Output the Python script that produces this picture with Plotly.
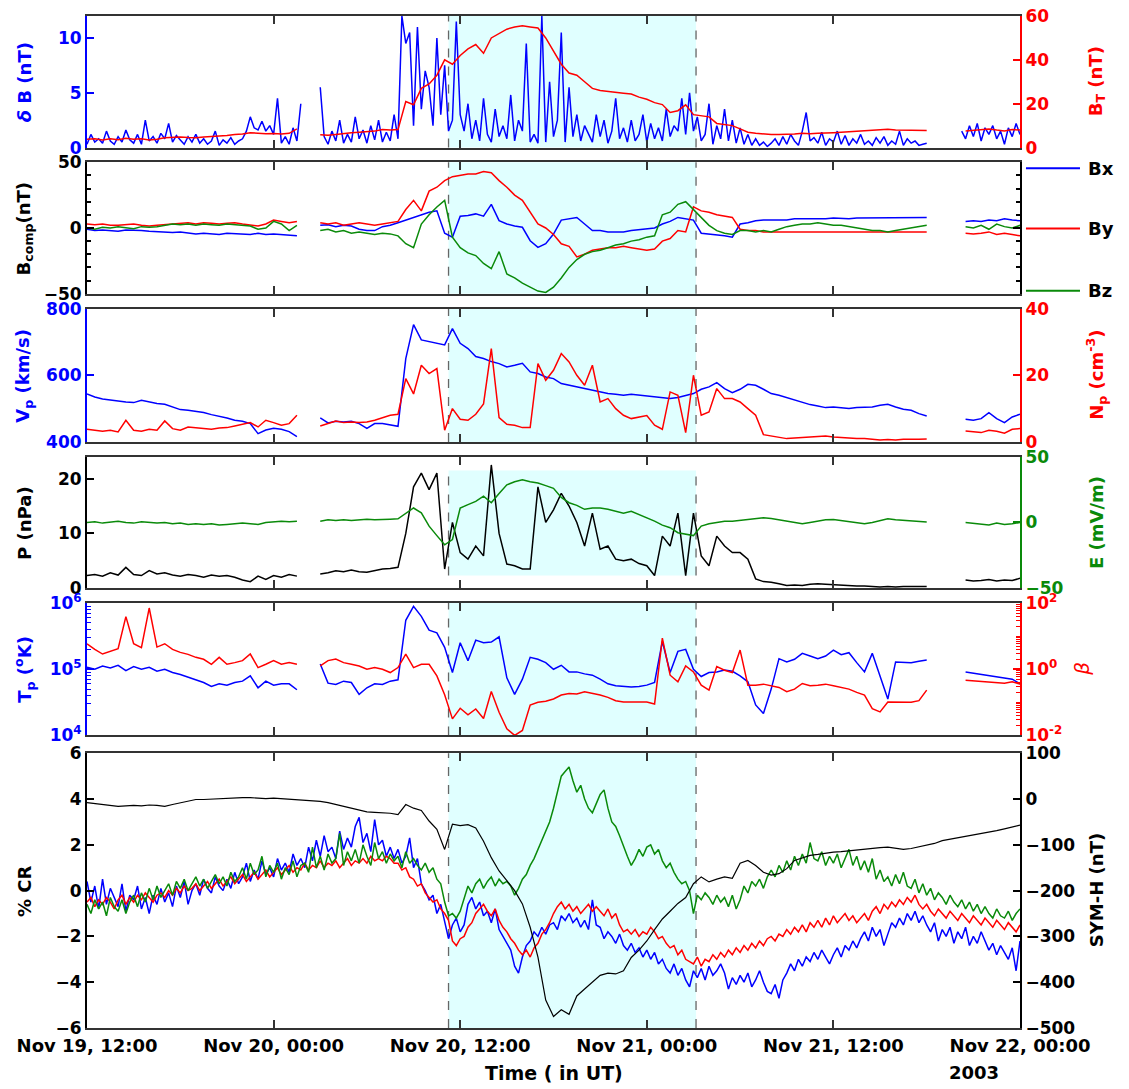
import pandas as pd
import plotly.graph_objects as go

N = None
T0 = "2003-11-19 12:00"
T1 = "2003-11-22 00:00"
time_30min = pd.date_range(T0, periods=121, freq="30min")
time_15min = pd.date_range(T0, periods=241, freq="15min")
x_tick_vals = pd.date_range(T0, periods=6, freq="12h")
x_tick_text = ["Nov 19, 12:00", "Nov 20, 00:00", "Nov 20, 12:00",
               "Nov 21, 00:00", "Nov 21, 12:00", "Nov 22, 00:00"]
shade_start = "2003-11-20 11:15"
shade_end = "2003-11-21 03:10"

# ---------------- Panel 1 ----------------
delta_b = [
    0.3, 1.2, 0.5, 0.8, 0.4, 1.5, 0.6, 0.3, 1.0, 0.5, 1.6, 0.7, 0.4, 1.2, 0.3, 2.5,
    0.6, 1.0, 0.4, 1.3, 0.8, 2.2, 0.5, 1.1, 0.7, 0.3, 1.0, 0.5, 1.2, 0.4, 0.8, 0.3,
    0.6, 1.5, 0.2, 0.7, 0.4, 0.9, 0.3, 0.6, 0.8, 1.5, 2.8, 1.8, 1.6, 2.4, 1.5, 2.0,
    1.2, 4.5, 0.4, 1.0, 0.3, 1.8, 0.6, 4.0, N, N, N, N, 5.5, 1.0, 0.3, 1.5,
    0.6, 2.5, 0.4, 1.2, 0.5, 2.8, 0.8, 1.6, 0.4, 2.0, 0.7, 2.5, 0.5, 1.4, 0.6, 3.0,
    0.8, 12.0, 9.5, 10.5, 2.0, 11.0, 3.5, 7.0, 5.5, 2.0, 10.0, 3.0, 7.5, 1.5, 2.5, 11.5,
    3.0, 1.5, 4.0, 0.8, 2.5, 0.6, 4.5, 1.2, 0.5, 3.5, 1.0, 2.0, 0.8, 4.8, 0.6, 2.5,
    1.5, 9.5, 0.5, 1.2, 0.4, 12.0, 0.5, 6.0, 1.0, 2.5, 10.5, 0.5, 5.5, 1.0, 3.0, 0.6,
    2.0, 1.2, 0.5, 3.0, 1.0, 2.5, 0.4, 1.5, 4.5, 0.8, 1.8, 0.5, 2.5, 0.6, 1.2, 3.0,
    0.5, 2.2, 0.8, 1.8, 0.6, 3.5, 1.0, 2.0, 1.5, 4.5, 1.2, 5.0, 1.5, 2.8, 0.6, 1.2,
    4.0, 0.3, 2.0, 0.8, 3.5, 0.6, 2.5, 0.4, 1.8, 0.3, 1.2, 0.2, 0.8, 0.2, 0.5, 0.1,
    0.4, 0.8, 0.2, 1.0, 0.3, 1.2, 0.6, 0.2, 1.5, 3.2, 0.6, 0.9, 0.4, 1.4, 0.2, 0.8,
    0.5, 1.5, 0.3, 1.1, 0.2, 0.8, 0.4, 1.2, 0.3, 0.6, 0.2, 0.9, 0.4, 1.0, 0.2, 0.6,
    0.3, 1.5, 0.2, 0.8, 0.4, 0.6, 0.2, 0.3, 0.4, N, N, N, N, N, N, N,
    N, 1.5, 0.8, 2.0, 1.0, 2.2, 0.6, 1.8, 1.2, 2.0, 0.8, 1.5, 0.3, 1.8, 1.0, 2.2,
    1.2]
b_total = [
    3.8, 4.0, 3.5, 4.0, 3.6, 4.2, 3.8, 4.0, 3.5, 3.8,
    4.5, 4.8, 4.8, 4.6, 4.5, 4.8, 5.0, 5.2, 5.5, 6.0,
    6.2, 6.8, 6.5, 6.3, 6.4, 6.2, 6.5, 8.5, N, N,
    5.8, 5.6, 6.0, 6.5, 6.8, 7.0, 7.2, 7.5, 8.2, 8.0,
    8.2, 21.0, 19.5, 27.0, 29.0, 33.0, 40.0, 38.0, 42.0, 45.0,
    47.0, 43.0, 50.0, 52.0, 54.0, 55.0, 55.5, 55.0, 54.5, 50.0,
    44.0, 38.0, 34.0, 33.0, 30.0, 27.0, 26.0, 25.5, 25.0, 24.8,
    24.4, 23.0, 22.0, 20.5, 19.6, 16.0, 16.8, 19.5, 15.0, 14.5,
    14.0, 11.0, 10.5, 10.0, 8.5, 7.0, 6.5, 6.2, 6.0, 6.0,
    6.0, 6.2, 6.5, 6.3, 6.5, 6.8, 6.8, 7.0, 7.2, 7.4,
    7.5, 7.8, 8.2, 8.3, 8.0, 8.0, 8.1, 8.0, 7.8, N,
    N, N, N, 7.5, 7.8, 8.2, 8.5, 8.0, 7.6, 8.2,
    8.0]

# ---------------- Panel 2 ----------------
b_x = [
    -1.0, -2.0, -1.5, -2.0, -2.5, -1.5, -1.5, -2.0, -2.5, -3.0,
    -3.0, -3.5, -3.0, -4.0, -4.5, -4.0, -4.5, -5.0, -4.0, -4.5,
    -4.5, -5.0, -4.0, -5.0, -4.5, -5.0, -5.5, -6.0, N, N,
    2.0, 2.5, 1.0, 2.0, 1.5, -1.0, -2.0, -2.0, 1.0, 2.0,
    4.0, 6.0, 8.0, 10.0, 12.0, 13.0, -4.0, -7.0, 9.0, 9.5,
    10.7, 9.0, 18.0, 5.6, 3.0, 1.5, 0.5, -9.7, -14.8, -12.0,
    -4.6, 6.0, 7.0, 8.0, 3.0, -2.0, -2.0, -3.0, -3.0, -3.0,
    -2.0, -1.5, -1.0, 0.0, 3.0, 5.0, 8.0, 7.0, 6.0, -4.0,
    -4.5, -5.0, -6.0, -7.0, 3.0, 4.0, 5.5, 6.0, 6.0, 6.5,
    6.0, 7.0, 7.0, 6.5, 7.0, 7.0, 7.5, 7.0, 7.0, 7.5,
    7.5, 7.5, 8.0, 7.5, 8.0, 8.0, 8.0, 8.0, 8.0, N,
    N, N, N, 5.0, 5.5, 5.0, 6.0, 5.5, 7.0, 6.0,
    5.5]
b_y = [
    3.0, 2.5, 3.0, 2.0, 2.0, 2.5, 3.0, 2.0, 1.5, 2.0,
    2.5, 3.0, 3.5, 4.0, 3.0, 4.0, 3.5, 3.0, 3.5, 4.0,
    3.0, 2.5, 1.5, 3.0, 6.0, 5.0, 4.0, 5.0, N, N,
    4.0, 3.0, 4.0, 2.0, 3.0, 4.0, 3.0, 2.0, 3.0, 4.0,
    5.0, 14.0, 21.0, 13.0, 28.0, 31.0, 36.0, 39.0, 40.0, 41.0,
    41.0, 43.0, 42.0, 36.0, 31.0, 25.0, 21.0, 12.0, 3.0, 0.0,
    -5.0, -12.0, -14.0, -22.0, -20.0, -17.0, -16.0, -15.0, -15.0, -14.0,
    -15.0, -16.0, -17.0, -16.0, -10.0, -8.0, -2.0, -3.0, 16.0, 13.0,
    12.0, 10.0, 9.0, 8.0, -1.0, -2.0, -2.0, -3.0, -3.0, -3.0,
    -3.0, -3.5, -3.0, -3.0, -3.5, -3.0, -3.0, -3.5, -3.0, -3.0,
    -3.5, -3.0, -3.0, -3.5, -3.0, -3.0, -3.5, -3.0, -3.0, N,
    N, N, N, -4.0, -4.5, -4.0, -3.0, -5.0, -4.0, -5.0,
    -6.0]
b_z = [
    0.0, -1.0, 0.5, 0.0, 1.0, 0.0, -0.5, 1.0, 0.5, 1.0,
    2.0, 3.0, 2.5, 3.0, 2.0, 3.0, 2.5, 2.0, 3.0, 2.5,
    2.0, 1.5, -1.0, 0.0, 5.0, 3.0, -2.0, 2.0, N, N,
    -2.0, -1.0, -3.0, -2.0, -4.0, -3.0, -4.0, -5.0, -4.0, -4.5,
    -6.0, -12.0, -15.0, 3.0, 10.0, 16.0, 21.0, -7.0, -15.0, -19.0,
    -21.0, -27.0, -31.0, -18.0, -35.0, -38.0, -42.0, -45.0, -48.0, -49.0,
    -45.0, -38.0, -30.0, -24.0, -20.0, -18.0, -17.0, -15.0, -13.0, -12.0,
    -10.0, -9.0, -7.0, -6.0, 10.0, 12.0, 18.0, 20.0, 14.0, 8.0,
    2.0, -2.0, -4.0, -5.0, -2.0, -2.0, -3.0, -2.0, -3.0, -1.0,
    1.0, 2.0, 3.0, 3.0, 4.0, 3.0, 2.0, 2.0, 1.0, 0.0,
    -1.0, -2.0, -2.0, -3.0, -2.0, -1.0, 0.0, 1.0, 2.0, N,
    N, N, N, 1.0, 0.0, 2.0, -1.0, 3.0, 1.0, 0.0,
    2.0]

# ---------------- Panel 3 ----------------
v_p = [
    544, 535, 529, 525, 523, 520, 518, 525, 520, 515,
    513, 505, 497, 495, 492, 488, 482, 478, 472, 465,
    462, 455, 425, 436, 441, 438, 431, 416, N, N,
    472, 457, 462, 460, 462, 455, 441, 455, 455, 452,
    447, 650, 752, 706, 701, 696, 691, 740, 696, 680,
    656, 650, 641, 635, 625, 630, 636, 610, 605, 595,
    590, 575, 570, 563, 560, 553, 550, 545, 543, 540,
    543, 540, 538, 535, 533, 530, 533, 538, 545, 558,
    565, 578, 560, 548, 558, 573, 570, 558, 545, 540,
    533, 525, 518, 512, 508, 503, 505, 503, 500, 503,
    503, 505, 510, 513, 505, 498, 495, 485, 478, N,
    N, N, N, 468, 465, 470, 488, 470, 458, 475,
    483]
n_p = [
    3.8, 3.5, 3.2, 3.5, 3.0, 6.5, 3.5, 3.2, 3.8, 3.5,
    6.3, 4.0, 3.5, 4.5, 4.3, 4.0, 3.8, 4.2, 4.3, 4.8,
    5.3, 5.8, 4.5, 6.5, 5.8, 5.0, 5.5, 8.0, N, N,
    4.8, 5.5, 6.3, 5.8, 6.0, 5.8, 6.0, 6.5, 7.3, 8.0,
    8.3, 19.0, 14.4, 23.0, 20.5, 22.0, 3.5, 10.0, 6.8, 6.5,
    8.3, 11.4, 28.0, 7.3, 5.3, 5.0, 4.3, 4.3, 23.5, 18.5,
    21.5, 26.5, 24.0, 20.0, 17.0, 23.0, 12.0, 13.0, 10.0, 8.0,
    7.0, 7.5, 7.9, 5.0, 3.8, 15.0, 14.0, 2.8, 20.0, 8.0,
    9.0, 16.0, 13.0, 13.0, 12.0, 10.0, 8.0, 2.2, 1.8, 1.5,
    1.0, 1.2, 1.3, 1.5, 1.5, 1.8, 1.5, 1.3, 1.2, 1.0,
    1.0, 0.8, 0.6, 0.7, 0.6, 0.8, 0.7, 0.8, 0.9, N,
    N, N, N, 3.3, 3.0, 2.8, 3.5, 3.2, 2.6, 3.8,
    4.0]

# ---------------- Panel 4 ----------------
pressure = [
    2.3, 2.5, 2.2, 2.8, 2.4, 3.8, 2.5, 2.3, 3.2, 2.6,
    2.8, 2.4, 2.2, 2.5, 2.3, 2.0, 2.4, 2.2, 2.3, 2.0,
    1.5, 1.2, 2.2, 1.6, 2.3, 2.0, 2.5, 2.2, N, N,
    2.6, 2.8, 3.2, 3.0, 3.3, 3.0, 2.9, 3.2, 3.5, 3.6,
    3.8, 10.0, 18.5, 21.0, 18.0, 21.0, 3.5, 12.0, 6.5, 5.3,
    7.7, 5.9, 22.5, 10.0, 4.4, 4.1, 3.5, 3.5, 18.5, 12.0,
    14.3, 17.3, 15.0, 12.0, 7.7, 13.7, 7.1, 7.7, 5.3, 5.0,
    5.3, 4.5, 4.1, 2.3, 9.5, 7.7, 13.7, 2.3, 13.7, 5.9,
    4.1, 9.5, 7.7, 6.5, 6.5, 5.3, 1.7, 1.2, 1.1, 0.8,
    0.5, 0.6, 0.5, 0.7, 0.8, 0.7, 0.6, 0.5, 0.5, 0.4,
    0.4, 0.3, 0.2, 0.3, 0.2, 0.3, 0.3, 0.2, 0.3, N,
    N, N, N, 1.5, 1.3, 1.4, 1.6, 1.3, 1.5, 1.4,
    1.8]
e_field = [
    0.0, 0.5, -0.5, 0.5, 1.0, 0.0, -0.5, 0.5, 0.0, -0.5,
    0.0, -1.0, -0.5, -1.5, -1.0, -1.5, -1.0, -2.0, -1.5, -1.0,
    -0.5, -1.0, -1.5, 0.0, 0.5, 1.0, 0.5, 1.0, N, N,
    1.0, 2.0, 1.5, 2.0, 1.5, 2.0, 2.5, 2.0, 2.0, 2.5,
    2.8, 7.0, 11.0, 7.3, -2.8, -10.0, -17.0, -13.0, 11.0, 13.6,
    16.0, 20.0, 15.0, 22.0, 28.6, 31.0, 32.4, 31.0, 30.0, 28.0,
    26.0, 19.0, 15.0, 13.0, 10.0, 11.0, 11.0, 10.0, 8.5, 7.0,
    8.5, 6.0, 4.0, 1.0, -2.0, -4.0, -7.8, -9.0, -10.0, -2.8,
    -1.0, 0.0, 1.0, 1.0, 1.5, 2.0, 3.0, 3.5, 3.0, 2.0,
    0.5, -0.3, -1.0, 0.0, 1.0, 2.0, 2.3, 1.5, 0.5, -0.5,
    -1.0, 0.0, 1.5, 2.8, 2.0, 1.5, 1.0, 0.5, 0.3, N,
    N, N, N, 0.0, -0.5, -1.0, -2.0, -0.5, -1.5, -1.0,
    0.0]

# ---------------- Panel 5 (log10 values) ----------------
tp_log10 = [
    5.03, 5.0, 5.05, 5.02, 5.06, 4.98, 5.04, 5.0, 5.03, 4.97,
    5.0, 4.95, 4.92, 4.88, 4.85, 4.8, 4.74, 4.78, 4.76, 4.8,
    4.82, 4.9, 4.72, 4.82, 4.76, 4.78, 4.78, 4.69, N, N,
    5.08, 4.79, 4.77, 4.82, 4.8, 4.62, 4.72, 4.78, 4.77, 4.82,
    4.84, 5.74, 5.95, 5.8, 5.59, 5.55, 5.33, 4.95, 5.4, 5.13,
    5.44, 5.4, 5.41, 5.49, 4.87, 4.62, 4.85, 5.18, 5.15, 5.1,
    5.0, 5.06, 4.96, 4.96, 4.93, 4.91, 4.85, 4.78, 4.75, 4.74,
    4.73, 4.74, 4.76, 4.8, 5.42, 4.95, 5.27, 5.3, 5.0, 4.89,
    4.95, 4.96, 4.99, 4.97, 4.9, 4.81, 4.46, 4.33, 4.7, 5.16,
    5.11, 5.15, 5.24, 5.2, 5.16, 5.2, 5.29, 5.22, 5.25, 5.1,
    4.96, 5.24, 4.91, 4.55, 5.11, 5.1, 5.1, 5.12, 5.14, N,
    N, N, N, 4.96, 4.94, 4.92, 4.9, 4.88, 4.87, 4.85,
    4.78]
beta_log10 = [
    0.77, 0.6, 0.46, 0.55, 0.62, 1.59, 0.77, 0.65, 1.85, 0.67,
    0.77, 0.6, 0.51, 0.45, 0.36, 0.3, 0.15, 0.36, 0.15, 0.2,
    0.26, 0.46, 0.05, 0.15, 0.26, 0.15, 0.2, 0.15, N, N,
    0.1, 0.26, 0.31, 0.2, 0.15, 0.1, 0.0, 0.05, 0.0, -0.1,
    0.05, 0.46, 0.05, 0.15, 0.15, -0.2, -0.77, -1.5, -1.18, -1.38,
    -1.2, -1.49, -0.67, -1.3, -1.8, -2.0, -1.85, -1.08, -1.0, -0.97,
    -0.9, -0.78, -0.73, -0.75, -0.68, -0.72, -0.78, -0.85, -0.95, -0.99,
    -0.99, -1.0, -0.99, -1.05, 0.94, -0.18, -0.38, 0.1, -0.08, -0.48,
    -0.63, 0.08, -0.03, -0.1, 0.58, -0.48, -0.48, -0.45, -0.5, -0.55,
    -0.68, -0.6, -0.43, -0.5, -0.48, -0.45, -0.5, -0.55, -0.6, -0.7,
    -0.78, -1.19, -1.29, -0.99, -1.0, -0.99, -1.0, -0.95, -0.63, N,
    N, N, N, -0.33, -0.35, -0.38, -0.4, -0.4, -0.42, -0.38,
    -0.45]

# ---------------- Panel 6 ----------------
cr_blue = [
    0.4, -0.5, 0.2, -0.8, 0.5, -0.6, 0.1, -0.3, -0.7, 0.3, -0.9, -0.2, -0.4, 0.2, -0.8, -0.3,
    -1.0, -0.2, -0.6, 0.1, -0.5, -0.1, -0.7, 0.2, -0.3, 0.4, -0.6, 0.0, 0.3, -0.2, 0.5, 0.1,
    -0.1, 0.6, 0.2, 0.0, 0.5, 0.1, 0.8, 0.3, 0.6, 1.2, 0.4, 0.9, 0.5, 1.3, 0.7, 1.0,
    0.6, 1.4, 0.9, 1.2, 0.8, 1.6, 1.1, 1.4, 1.0, 1.9, 1.3, 2.2, 1.5, 2.4, 1.7, 1.9,
    1.4, 2.6, 1.8, 2.3, 1.9, 2.8, 3.2, 2.1, 2.5, 1.7, 3.1, 2.0, 2.2, 1.5, 1.9, 1.4,
    1.8, 1.2, 1.5, 2.3, 1.0, 1.4, 0.3, 0.0, -0.4, -0.2, -1.0, -0.6, -1.3, -2.1, -1.5, -1.2,
    -1.8, -1.5, -0.6, -0.3, -0.8, -0.5, -1.1, -0.9, -1.4, -0.8, -1.7, -2.0, -2.3, -2.6, -3.3, -3.6,
    -2.9, -2.4, -2.2, -1.8, -2.0, -1.6, -1.9, -1.5, -1.4, -1.7, -1.1, -1.3, -1.0, -1.4, -1.2, -1.6,
    -1.3, -1.7, -0.4, -1.5, -1.6, -2.1, -1.8, -2.0, -2.3, -1.9, -2.4, -2.6, -2.3, -2.7, -2.5, -2.9,
    -2.6, -3.0, -2.7, -3.2, -3.0, -3.4, -3.6, -3.2, -3.7, -3.4, -3.9, -4.2, -3.5, -3.8, -3.4, -3.9,
    -3.3, -3.7, -3.5, -3.2, -3.6, -4.3, -3.8, -4.1, -3.7, -4.0, -3.6, -4.2, -3.9, -3.5, -4.0, -4.4,
    -4.5, -4.1, -4.7, -3.9, -3.6, -3.2, -3.5, -3.0, -3.3, -2.9, -3.1, -2.7, -3.0, -2.6, -2.9, -3.2,
    -2.8, -2.5, -2.9, -2.4, -2.6, -2.2, -2.5, -2.1, -1.8, -2.2, -1.6, -2.0, -1.7, -2.4, -1.9, -1.4,
    -1.6, -1.2, -1.5, -1.0, -1.3, -0.9, -1.4, -1.1, -1.5, -1.8, -1.4, -2.2, -1.7, -2.0, -1.6, -2.3,
    -1.8, -2.1, -1.6, -2.4, -2.0, -2.3, -1.8, -2.2, -2.6, -2.3, -2.8, -2.4, -2.7, -3.0, -2.5, -3.5,
    -2.2]
cr_red = [
    -0.5, -0.3, -0.7, -0.4, -0.6, -0.3, -0.5, -0.8, -0.4, -0.2, -0.6, -0.3, -0.5, -0.2, -0.4, -0.1,
    -0.3, -0.5, -0.2, -0.1, -0.3, 0.0, -0.2, 0.1, -0.1, 0.2, 0.0, 0.1, 0.3, 0.0, 0.2, 0.4,
    0.1, 0.3, 0.5, 0.2, 0.4, 0.6, 0.3, 0.5, 0.7, 0.4, 0.6, 0.8, 0.5, 0.7, 0.9, 0.6,
    0.8, 1.0, 0.7, 0.9, 1.1, 0.8, 1.0, 0.9, 1.2, 0.9, 1.1, 1.0, 1.3, 1.0, 1.2, 1.1,
    1.3, 1.0, 1.2, 1.4, 1.1, 1.3, 1.2, 1.4, 1.2, 1.5, 1.3, 1.4, 1.3, 1.5, 1.4, 1.2,
    1.2, 0.9, 1.0, 0.6, 0.5, 0.2, 0.3, -0.1, -0.3, -0.5, -0.4, -0.8, -1.0, -1.3, -2.2, -2.4,
    -2.1, -2.0, -1.6, -1.4, -1.0, -0.8, -0.6, -0.9, -1.1, -0.8, -1.3, -1.6, -1.8, -2.1, -2.3, -2.6,
    -2.8, -2.6, -2.9, -2.5, -2.3, -1.9, -1.7, -1.4, -1.0, -0.7, -0.5, -0.8, -0.6, -0.9, -0.7, -1.0,
    -0.8, -0.6, -0.9, -0.7, -0.9, -1.1, -0.8, -1.2, -1.0, -1.5, -1.8, -1.7, -1.9, -1.7, -2.0, -1.8,
    -1.9, -1.6, -1.8, -2.1, -2.0, -2.3, -2.5, -2.4, -2.8, -2.6, -3.0, -3.1, -3.2, -2.9, -3.3, -3.0,
    -3.1, -2.8, -3.0, -2.7, -2.9, -2.6, -2.8, -2.5, -2.7, -2.4, -2.6, -2.3, -2.5, -2.2, -2.4, -2.1,
    -2.0, -2.2, -1.9, -2.0, -1.7, -1.9, -1.6, -1.8, -1.5, -1.8, -1.4, -1.6, -1.3, -1.6, -1.2, -1.5,
    -1.1, -1.4, -1.2, -1.0, -1.3, -1.1, -1.4, -1.2, -1.0, -1.3, -0.9, -0.7, -1.0, -0.6, -0.8, -0.5,
    -0.7, -0.4, -0.6, -0.3, -0.5, -0.2, -0.6, -0.8, -0.6, -0.9, -1.1, -0.8, -1.0, -1.2, -0.9, -1.1,
    -1.3, -1.0, -1.2, -1.4, -1.1, -1.3, -1.5, -1.2, -1.4, -1.6, -1.3, -1.5, -1.7, -1.4, -1.6, -1.8,
    -1.5]
cr_green = [
    -0.6, -1.0, -0.4, -0.8, -0.5, -1.1, -0.3, -0.7, -0.9, -0.4, -1.0, -0.5, -0.2, -0.7, -0.1, -0.5,
    0.1, -0.4, 0.2, -0.3, 0.0, 0.3, -0.2, 0.4, 0.1, 0.5, 0.0, 0.3, 0.6, 0.2, 0.5, 0.1,
    0.4, 0.7, 0.3, 0.6, 0.2, 0.8, 0.4, 0.6, 1.0, 0.5, 1.2, 0.7, 0.9, 1.5, 0.6, 1.1,
    0.8, 1.2, 0.5, 1.0, 0.7, 1.3, 0.6, 1.1, 1.2, 0.8, 1.9, 1.0, 1.5, 0.9, 1.6, 1.2,
    1.4, 2.5, 1.1, 1.7, 1.3, 1.8, 1.2, 2.0, 1.5, 1.1, 2.1, 1.4, 1.7, 1.2, 1.6, 1.3,
    1.5, 1.0, 1.7, 1.2, 1.4, 1.1, 0.9, 1.2, 0.8, 1.0, 0.5, 0.3, -0.5, -1.1, -1.0, -1.2,
    -0.9, -0.3, 0.2, -0.1, 0.3, 0.5, 0.1, 0.4, 0.6, 0.2, 0.5, 0.3, 0.4, 0.2, -0.2, 0.1,
    0.5, 0.7, 1.1, 1.4, 1.8, 2.2, 2.6, 3.0, 3.6, 4.3, 5.0, 5.2, 5.4, 4.8, 4.3, 4.6,
    4.0, 3.6, 3.4, 3.8, 4.2, 4.4, 3.6, 3.0, 2.8, 2.4, 1.9, 1.5, 1.1, 1.4, 1.8, 1.5,
    1.9, 2.0, 1.6, 1.8, 1.3, 1.0, 1.2, 0.8, 0.5, 0.3, 0.4, 0.0, -1.0, -0.2, -0.4, -0.1,
    -0.3, -0.6, -0.2, -0.5, -0.3, -0.7, -0.2, -0.8, -0.4, 0.2, -0.1, 0.4, 0.2, 0.5, 0.1, 0.6,
    0.9, 0.6, 1.1, 0.8, 1.3, 0.9, 1.5, 1.1, 1.6, 1.2, 2.1, 1.4, 1.3, 1.7, 1.1, 1.5,
    1.2, 1.6, 1.0, 1.4, 1.8, 1.1, 1.5, 0.9, 1.3, 0.8, 1.4, 0.5, 0.9, 0.4, 0.6, 0.2,
    0.7, 0.3, 0.8, 0.2, 0.1, 0.5, -0.1, 0.3, -0.2, 0.1, -0.4, -0.1, -0.3, -0.6, -0.2, -0.5,
    -0.7, -0.4, -0.8, -0.5, -0.9, -0.6, -1.0, -0.7, -1.0, -1.2, -0.8, -1.1, -1.2, -0.9, -1.3, -1.0,
    -0.8]
sym_h = [
    -8, -10, -12, -14, -16, -15, -14, -15, -13, -14,
    -16, -12, -8, -4, -1, -1, 0, 1, 2, 2,
    3, 3, 2, 1, 2, 1, 0, -1, -2, -3,
    -5, -8, -12, -15, -19, -23, -28, -29, -30, -31,
    -34, -12, -20, -25, -48, -66, -110, -55, -58, -56,
    -63, -92, -128, -157, -178, -200, -229, -280, -345, -439,
    -475, -460, -470, -430, -415, -400, -385, -380, -382, -375,
    -346, -330, -310, -285, -262, -245, -228, -215, -185, -170,
    -181, -175, -170, -173, -140, -134, -145, -160, -166, -163,
    -152, -134, -128, -123, -121, -118, -116, -115, -113, -112,
    -110, -108, -106, -105, -107, -110, -108, -104, -101, -97,
    -91, -88, -85, -82, -78, -76, -72, -69, -65, -61,
    -57]

tp_kelvin = [None if v is None else 10 ** v for v in tp_log10]
beta = [None if v is None else 10 ** v for v in beta_log10]

# ---------------- styling ----------------
FONT = "DejaVu Sans"
BLUE = "#0000ff"
RED = "#ff0000"
GREEN = "#0a8a0a"
BLACK = "#000000"
FRAME = "#333333"
SHADE = "#e0ffff"
YTICK_SIZE = 17
XTICK_SIZE = 18
TITLE_SIZE = 18

domains = [[0.870, 1.0], [0.7256, 0.8555], [0.5791, 0.7109],
           [0.4346, 0.5645], [0.2891, 0.4199], [0.0, 0.2715]]


def xname(k):
    return "x" if k == 1 else f"x{k}"


def yname(n):
    return "y" if n == 1 else f"y{n}"


def lkey(prefix, n):
    return f"{prefix}axis" if n == 1 else f"{prefix}axis{n}"


fig = go.Figure()


def add(x, y, color, panel, right=False, width=1.5):
    n = 2 * panel - 1 + (1 if right else 0)
    fig.add_trace(go.Scatter(x=x, y=y, mode="lines",
                             line=dict(color=color, width=width),
                             xaxis=xname(panel), yaxis=yname(n),
                             showlegend=False, hoverinfo="skip"))


add(time_15min, delta_b, BLUE, 1)
add(time_30min, b_total, RED, 1, right=True)
add(time_30min, b_x, BLUE, 2)
add(time_30min, b_y, RED, 2)
add(time_30min, b_z, GREEN, 2)
add(time_30min, v_p, BLUE, 3)
add(time_30min, n_p, RED, 3, right=True)
add(time_30min, pressure, BLACK, 4)
add(time_30min, e_field, GREEN, 4, right=True)
add(time_30min, tp_kelvin, BLUE, 5)
add(time_30min, beta, RED, 5, right=True)
add(time_15min, cr_blue, BLUE, 6)
add(time_15min, cr_red, RED, 6)
add(time_15min, cr_green, GREEN, 6)
add(time_30min, sym_h, BLACK, 6, right=True, width=1.2)

layout = dict(width=1129, height=1089, autosize=False,
              margin=dict(l=87, r=109, t=4, b=61),
              plot_bgcolor="white", paper_bgcolor="white",
              font=dict(family=FONT, size=16, color=BLACK),
              showlegend=False)


def tickfont(c, size=YTICK_SIZE):
    return dict(family=FONT, size=size, color=c, weight="bold")


for k in range(1, 7):
    ax = dict(domain=[0, 1], anchor=yname(2 * k - 1), type="date",
              range=[T0, T1], tickmode="array", tickvals=x_tick_vals,
              ticktext=x_tick_text, showticklabels=(k == 6),
              ticks="inside", ticklen=8, tickwidth=2, tickcolor=FRAME,
              showline=True, linecolor=FRAME, linewidth=2, mirror="ticks",
              showgrid=False, zeroline=False,
              tickfont=tickfont(BLACK, XTICK_SIZE))
    if k > 1:
        ax["matches"] = "x"
    layout[lkey("x", k)] = ax

left_specs = {
    1: dict(range=[0, 12], tickvals=[0, 5, 10], color=BLUE),
    2: dict(range=[-50, 50], tickvals=[-50, 0, 50], color=BLACK),
    3: dict(range=[400, 800], tickvals=[400, 600, 800], color=BLUE),
    4: dict(range=[0, 24], tickvals=[0, 10, 20], color=BLACK),
    5: dict(range=[4, 6], tickvals=[1e4, 1e5, 1e6], color=BLUE, log=True,
            ticktext=["10<sup>4</sup>", "10<sup>5</sup>", "10<sup>6</sup>"]),
    6: dict(range=[-6, 6], tickvals=[-6, -4, -2, 0, 2, 4, 6], color=BLACK),
}
right_specs = {
    1: dict(range=[0, 60], tickvals=[0, 20, 40, 60], color=RED),
    3: dict(range=[0, 40], tickvals=[0, 20, 40], color=RED),
    4: dict(range=[-50, 50], tickvals=[-50, 0, 50], color=GREEN),
    5: dict(range=[-2, 2], tickvals=[1e-2, 1, 1e2], color=RED, log=True,
            ticktext=["10<sup>-2</sup>", "10<sup>0</sup>", "10<sup>2</sup>"]),
    6: dict(range=[-500, 100], tickvals=[-500, -400, -300, -200, -100, 0, 100], color=BLACK),
}


def yax(spec, k, right):
    c = spec["color"]
    d = dict(range=spec["range"], tickmode="array", tickvals=spec["tickvals"],
             ticks="inside", ticklen=7, tickwidth=2, tickcolor=c,
             showline=True, linecolor=c, linewidth=2, showgrid=False,
             zeroline=False, tickfont=tickfont(c), anchor=xname(k))
    if "ticktext" in spec:
        d["ticktext"] = spec["ticktext"]
    if spec.get("log"):
        d["type"] = "log"
        d["minor"] = dict(ticks="inside", ticklen=4, tickwidth=1, tickcolor=c,
                          dtick="D1", showgrid=False)
    if right:
        d["overlaying"] = yname(2 * k - 1)
        d["side"] = "right"
    else:
        d["domain"] = domains[k - 1]
    return d


for k in range(1, 7):
    layout[lkey("y", 2 * k - 1)] = yax(left_specs[k], k, False)
    if k in right_specs:
        layout[lkey("y", 2 * k)] = yax(right_specs[k], k, True)

# panel 2 mirrored right spine with minor ticks
layout["yaxis3"]["mirror"] = "ticks"
layout["yaxis3"]["minor"] = dict(ticks="inside", ticklen=4, tickwidth=1.5,
                                 tickcolor=BLACK, dtick=10, showgrid=False)

# shading and dashed boundary lines
shapes = []
for k in range(1, 7):
    if k == 4:
        yref, y0, y1 = yname(7), 2.3, 21.5
    else:
        yref, y0, y1 = f"{yname(2 * k - 1)} domain", 0, 1
    shapes.append(dict(type="rect", xref=xname(k), yref=yref, x0=shade_start,
                       x1=shade_end, y0=y0, y1=y1, fillcolor=SHADE,
                       line=dict(width=0), layer="below"))
    for xv in (shade_start, shade_end):
        shapes.append(dict(type="line", xref=xname(k), yref=yref, x0=xv, x1=xv,
                           y0=y0, y1=y1, line=dict(color="#666666", width=1.3,
                                                   dash="dash"), layer="below"))

# Legend for panel 2
legend_items = [("Bx", BLUE, 0.8496), ("By", RED, 0.790), ("Bz", GREEN, 0.7285)]
annotations = []
for label, col, yp in legend_items:
    shapes.append(dict(type="line", xref="paper", yref="paper", x0=1.0064,
                       x1=1.0643, y0=yp, y1=yp, line=dict(color=col, width=2)))
    annotations.append(dict(text=label, xref="paper", yref="paper", x=1.071,
                            y=yp, xanchor="left", yanchor="middle",
                            showarrow=False,
                            font=dict(family=FONT, size=TITLE_SIZE, color=BLACK,
                                      weight="bold")))

# axis titles
left_titles = [("<i>δ</i> B (nT)", BLUE), ("B<sub>comp</sub>(nT)", BLACK),
               ("V<sub>p</sub> (km/s)", BLUE), ("P (nPa)", BLACK),
               ("T<sub>p</sub> (<sup>o</sup>K)", BLUE), ("% CR", BLACK)]
right_titles = {1: ("B<sub>T</sub> (nT)", RED),
                3: ("N<sub>p</sub> (cm<sup>-3</sup>)", RED),
                4: ("E (mV/m)", GREEN),
                6: ("SYM-H (nT)", BLACK)}
for k in range(1, 7):
    yc = sum(domains[k - 1]) / 2
    txt, col = left_titles[k - 1]
    annotations.append(dict(text=txt, xref="paper", yref="paper", x=-0.067,
                            y=yc, textangle=-90, showarrow=False,
                            xanchor="center", yanchor="middle",
                            font=dict(family=FONT, size=TITLE_SIZE, color=col,
                                      weight="bold")))
    if k in right_titles:
        txt, col = right_titles[k]
        annotations.append(dict(text=txt, xref="paper", yref="paper", x=1.082,
                                y=yc, textangle=-90, showarrow=False,
                                xanchor="center", yanchor="middle",
                                font=dict(family=FONT, size=TITLE_SIZE, color=col,
                                          weight="bold")))
annotations.append(dict(text="<i>β</i>", xref="paper", yref="paper", x=1.082,
                        y=sum(domains[4]) / 2, textangle=-90, showarrow=False,
                        font=dict(family=FONT, size=20, color=RED)))

annotations.append(dict(text="Time ( in UT)", xref="paper", yref="paper",
                        x=0.5, y=-0.044, showarrow=False, xanchor="center",
                        yanchor="middle",
                        font=dict(family=FONT, size=19, color=BLACK,
                                  weight="bold")))
annotations.append(dict(text="2003", xref="paper", yref="paper", x=0.9218,
                        y=-0.044, showarrow=False, xanchor="left",
                        yanchor="middle",
                        font=dict(family=FONT, size=XTICK_SIZE, color=BLACK,
                                  weight="bold")))

layout["shapes"] = shapes
layout["annotations"] = annotations
fig.update_layout(**layout)

fig.write_html("out.html", config={"displayModeBar": False},
               post_script="document.body.style.margin='0';")
